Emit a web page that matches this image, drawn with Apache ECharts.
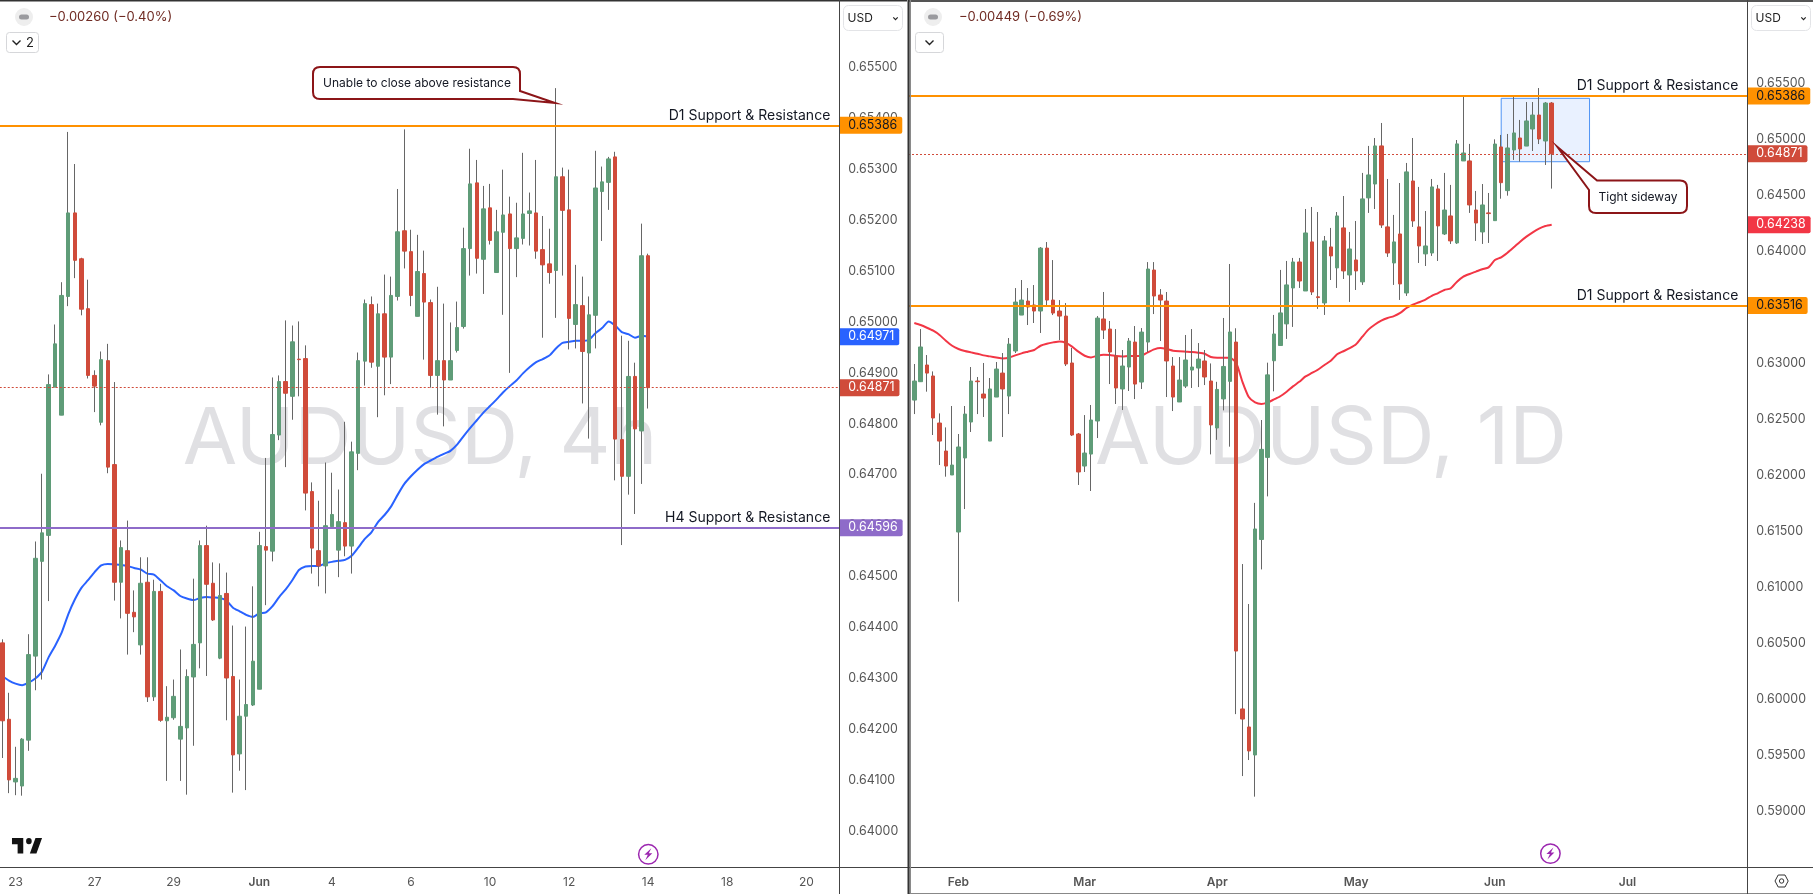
<!DOCTYPE html>
<html>
<head>
<meta charset="utf-8">
<title>AUDUSD</title>
<style>
html, body { margin: 0; padding: 0; background: #fff; }
#main { width: 1813px; height: 894px; }
</style>
<script src="https://cdn.jsdelivr.net/npm/echarts@6/dist/echarts.min.js"></script>
</head>
<body>
<div id="main"></div>
<script>
const h4Candles = [
  [0.64370,0.64217,0.64144,0.64377],[0.64220,0.64101,0.64075,0.64272],[0.64097,0.64104,0.64071,0.64166],
  [0.64089,0.64181,0.64070,0.64183],[0.64179,0.64347,0.64158,0.64387],[0.64344,0.64536,0.64277,0.64569],
  [0.64530,0.64586,0.64298,0.64702],[0.64581,0.64877,0.64452,0.64897],[0.64872,0.64957,0.64872,0.64995],
  [0.64817,0.65052,0.64817,0.65078],[0.65050,0.65214,0.65031,0.65373],[0.65214,0.65121,0.65086,0.65310],
  [0.65124,0.65025,0.65013,0.65126],[0.65026,0.64895,0.64889,0.65083],[0.64895,0.64874,0.64823,0.64905],
  [0.64803,0.64926,0.64797,0.64942],[0.64924,0.64715,0.64703,0.64957],[0.64720,0.64489,0.64453,0.64882],
  [0.64489,0.64557,0.64418,0.64571],[0.64551,0.64428,0.64347,0.64610],[0.64430,0.64421,0.64391,0.64473],
  [0.64366,0.64487,0.64347,0.64538],[0.64489,0.64264,0.64254,0.64538],[0.64264,0.64471,0.64256,0.64494],
  [0.64471,0.64218,0.64215,0.64486],[0.64217,0.64224,0.64099,0.64285],[0.64223,0.64265,0.64219,0.64298],
  [0.64181,0.64206,0.64099,0.64357],[0.64203,0.64304,0.64072,0.64318],[0.64303,0.64367,0.64168,0.64496],
  [0.64370,0.64561,0.64320,0.64571],[0.64561,0.64485,0.64305,0.64600],[0.64487,0.64415,0.64413,0.64528],
  [0.64340,0.64463,0.64338,0.64526],[0.64467,0.64301,0.64218,0.64508],[0.64304,0.64150,0.64076,0.64404],
  [0.64152,0.64226,0.64119,0.64298],[0.64226,0.64249,0.64081,0.64402],[0.64248,0.64334,0.64246,0.64481],
  [0.64279,0.64561,0.64279,0.64588],[0.64559,0.64552,0.64444,0.64733],[0.64550,0.64779,0.64530,0.64891],
  [0.64778,0.64883,0.64768,0.64895],[0.64883,0.64860,0.64715,0.65003],[0.64854,0.64961,0.64808,0.64993],
  [0.64927,0.64926,0.64854,0.65001],[0.64928,0.64664,0.64630,0.64954],[0.64667,0.64556,0.64506,0.64685],
  [0.64551,0.64521,0.64481,0.64649],[0.64521,0.64600,0.64467,0.64724],[0.64598,0.64622,0.64598,0.64704],
  [0.64552,0.64608,0.64499,0.64671],[0.64606,0.64560,0.64540,0.64804],[0.64560,0.64745,0.64506,0.64765],
  [0.64742,0.64924,0.64709,0.64940],[0.64923,0.65036,0.64875,0.65044],[0.65034,0.64921,0.64910,0.65050],
  [0.64913,0.65016,0.64813,0.65036],[0.65016,0.64931,0.64856,0.65093],[0.64931,0.65052,0.64878,0.65089],
  [0.65050,0.65177,0.65042,0.65261],[0.65179,0.65139,0.65105,0.65378],[0.65138,0.65052,0.65031,0.65181],
  [0.65011,0.65099,0.65011,0.65171],[0.65095,0.65039,0.64926,0.65140],[0.65038,0.64895,0.64871,0.65044],
  [0.64895,0.64924,0.64818,0.65069],[0.64924,0.64886,0.64795,0.65036],[0.64886,0.64924,0.64886,0.64999],
  [0.64944,0.64989,0.64940,0.65040],[0.64991,0.65144,0.64987,0.65185],[0.65144,0.65271,0.65091,0.65340],
  [0.65273,0.65125,0.65095,0.65318],[0.65123,0.65222,0.65055,0.65267],[0.65224,0.65160,0.65152,0.65271],
  [0.65097,0.65177,0.65097,0.65220],[0.65176,0.65210,0.65014,0.65299],[0.65212,0.65144,0.64900,0.65246],
  [0.65144,0.65165,0.65088,0.65234],[0.65164,0.65212,0.65152,0.65332],[0.65213,0.65218,0.65150,0.65254],
  [0.65214,0.65139,0.65124,0.65318],[0.65142,0.65112,0.64969,0.65208],[0.65114,0.65097,0.65075,0.65183],
  [0.65101,0.65285,0.65008,0.65459],[0.65285,0.65219,0.65091,0.65303],[0.65220,0.65007,0.64946,0.65299],
  [0.64995,0.65034,0.64948,0.65112],[0.65032,0.64942,0.64840,0.65089],[0.64939,0.65014,0.64771,0.65050],
  [0.65013,0.65263,0.64948,0.65336],[0.65256,0.65275,0.65159,0.65305],[0.65274,0.65320,0.65220,0.65324],
  [0.65324,0.64770,0.64689,0.65334],[0.64769,0.64697,0.64562,0.64973],[0.64697,0.64893,0.64661,0.64963],
  [0.64893,0.64790,0.64623,0.64920],[0.64786,0.65130,0.64682,0.65193],[0.65130,0.64871,0.64830,0.65134]
];
const h4Ema = [
  0.64305,0.64296,0.64290,0.64287,0.64292,0.64300,0.64313,0.64341,0.64364,0.64390,
  0.64426,0.64455,0.64478,0.64493,0.64509,0.64522,0.64525,0.64524,0.64523,0.64521,
  0.64517,0.64514,0.64506,0.64504,0.64493,0.64481,0.64473,0.64462,0.64457,0.64454,
  0.64458,0.64460,0.64459,0.64458,0.64453,0.64439,0.64432,0.64425,0.64421,0.64428,
  0.64430,0.64442,0.64460,0.64475,0.64493,0.64513,0.64520,0.64521,0.64521,0.64526,
  0.64529,0.64531,0.64533,0.64541,0.64557,0.64574,0.64587,0.64607,0.64621,0.64638,
  0.64661,0.64682,0.64697,0.64710,0.64721,0.64728,0.64735,0.64741,0.64747,0.64759,
  0.64776,0.64792,0.64807,0.64822,0.64835,0.64848,0.64862,0.64874,0.64885,0.64899,
  0.64911,0.64921,0.64927,0.64934,0.64948,0.64959,0.64961,0.64963,0.64963,0.64965,
  0.64978,0.64988,0.65001,0.64993,0.64980,0.64976,0.64969,0.64973,0.64971
];
const h4PriceTicks = [0.655,0.654,0.653,0.652,0.651,0.65,0.649,0.648,0.647,0.646,0.645,0.644,0.643,0.642,0.641,0.64];
const h4TickBars = [2,14,26,39,50,62,74,86,98,110,122];
const h4TickText = ['23','27','29','Jun','4','6','10','12','14','18','20'];

// same layout for the daily pane
const d1Candles = [
  [0.62672,0.62842,0.62547,0.62994],[0.62836,0.63146,0.62836,0.63306],[0.62985,0.62913,0.62747,0.63074],
  [0.62887,0.62512,0.62360,0.62928],[0.62467,0.62306,0.62092,0.62553],[0.62217,0.62083,0.61988,0.62428],
  [0.62003,0.62092,0.62003,0.62619],[0.61494,0.62253,0.60872,0.62369],[0.62155,0.62547,0.61699,0.62619],
  [0.62476,0.62842,0.62387,0.62967],[0.62842,0.62836,0.62547,0.62878],[0.62726,0.62690,0.62521,0.63003],
  [0.62306,0.62771,0.62306,0.62869],[0.62699,0.62949,0.62699,0.63012],[0.62913,0.62771,0.62342,0.63092],
  [0.62708,0.63172,0.62547,0.63226],[0.63110,0.63547,0.63092,0.63672],[0.63431,0.63565,0.63431,0.63744],
  [0.63556,0.63503,0.63342,0.63672],[0.63521,0.63467,0.63360,0.63699],[0.63467,0.64029,0.63271,0.64038],
  [0.64029,0.63565,0.63512,0.64083],[0.63565,0.63449,0.63431,0.63922],[0.63467,0.63422,0.63208,0.63565],
  [0.63422,0.62994,0.62976,0.63538],[0.63003,0.62360,0.62351,0.63137],[0.62369,0.62030,0.61914,0.62378],
  [0.62083,0.62199,0.62030,0.62538],[0.62190,0.62494,0.61860,0.62628],[0.62485,0.63404,0.62333,0.63422],
  [0.63396,0.63297,0.63217,0.63637],[0.63306,0.63101,0.62815,0.63378],[0.63065,0.62780,0.62637,0.63306],
  [0.62771,0.62976,0.62583,0.63119],[0.62967,0.63199,0.62753,0.63226],[0.63190,0.62815,0.62681,0.63333],
  [0.62833,0.63279,0.62771,0.63315],[0.63190,0.63842,0.63101,0.63904],[0.63833,0.63601,0.63440,0.63904],
  [0.63610,0.63565,0.63199,0.63663],[0.63556,0.63021,0.62699,0.63637],[0.62976,0.62699,0.62574,0.63056],
  [0.62655,0.62851,0.62655,0.63056],[0.62797,0.63030,0.62780,0.63253],[0.62940,0.62967,0.62780,0.63306],
  [0.62958,0.63038,0.62788,0.63181],[0.63021,0.62878,0.62806,0.63119],[0.62842,0.62450,0.62187,0.62999],
  [0.62423,0.62767,0.62317,0.62835],[0.62682,0.62972,0.62580,0.63405],[0.62839,0.63280,0.62256,0.63887],
  [0.63190,0.60431,0.59868,0.63313],[0.59914,0.59824,0.59315,0.61208],[0.59753,0.59539,0.59458,0.60851],
  [0.59503,0.61521,0.59131,0.61754],[0.61427,0.62232,0.61160,0.62494],[0.62160,0.62897,0.61812,0.63006],
  [0.63023,0.63262,0.62750,0.63432],[0.63159,0.63450,0.63159,0.63834],[0.63352,0.63700,0.63218,0.63914],
  [0.63673,0.63905,0.63325,0.63941],[0.63905,0.63735,0.63673,0.63941],[0.63646,0.64164,0.63646,0.64378],
  [0.64084,0.63637,0.63610,0.64396],[0.63594,0.63587,0.63486,0.64351],[0.63539,0.64093,0.63432,0.64137],
  [0.64039,0.63959,0.63744,0.64209],[0.63852,0.64316,0.63673,0.64351],[0.64209,0.63825,0.63753,0.64494],
  [0.63789,0.64021,0.63548,0.64173],[0.63923,0.63825,0.63655,0.64271],[0.63727,0.64468,0.63700,0.64700],
  [0.64477,0.64682,0.64343,0.64941],[0.64601,0.64941,0.64378,0.65012],[0.64941,0.64235,0.64209,0.65146],
  [0.64218,0.63985,0.63950,0.64646],[0.63896,0.64084,0.63700,0.64325],[0.64155,0.63709,0.63566,0.64610],
  [0.63628,0.64709,0.63602,0.64789],[0.64628,0.64271,0.64218,0.65012],[0.64218,0.64048,0.63896,0.64575],
  [0.63977,0.64048,0.63869,0.64360],[0.63985,0.64575,0.63959,0.64646],[0.64557,0.64227,0.63914,0.64593],
  [0.64155,0.64369,0.64146,0.64700],[0.64316,0.64093,0.64066,0.64593],[0.64075,0.64959,0.64066,0.64994],
  [0.64807,0.64878,0.64807,0.65381],[0.64807,0.64414,0.64343,0.64959],[0.64369,0.64253,0.64093,0.64539],
  [0.64173,0.64414,0.64066,0.64601],[0.64343,0.64337,0.64075,0.64521],[0.64274,0.64958,0.64274,0.65000],
  [0.64932,0.64613,0.64470,0.65039],[0.64542,0.64923,0.64497,0.65048],[0.64905,0.65057,0.64816,0.65378],
  [0.65012,0.64914,0.64801,0.65173],[0.64940,0.65164,0.64940,0.65333],[0.65092,0.65217,0.64896,0.65333],
  [0.65217,0.65003,0.64958,0.65458],[0.64985,0.65324,0.64771,0.65333],[0.65324,0.64871,0.64560,0.65333]
];
const d1Ma = [
  0.63360,0.63342,0.63318,0.63291,0.63253,0.63202,0.63157,0.63128,0.63110,0.63098,
  0.63086,0.63071,0.63062,0.63053,0.63044,0.63050,0.63071,0.63089,0.63104,0.63119,
  0.63157,0.63175,0.63187,0.63196,0.63184,0.63149,0.63104,0.63068,0.63053,0.63068,
  0.63077,0.63074,0.63065,0.63062,0.63065,0.63065,0.63068,0.63098,0.63125,0.63137,
  0.63128,0.63113,0.63107,0.63104,0.63101,0.63095,0.63086,0.63057,0.63050,0.63050,
  0.63050,0.63006,0.62835,0.62699,0.62651,0.62637,0.62651,0.62678,0.62706,0.62747,
  0.62794,0.62835,0.62883,0.62914,0.62945,0.62985,0.63023,0.63081,0.63108,0.63135,
  0.63170,0.63238,0.63303,0.63347,0.63381,0.63405,0.63422,0.63450,0.63494,0.63524,
  0.63545,0.63569,0.63603,0.63627,0.63655,0.63670,0.63729,0.63774,0.63798,0.63819,
  0.63840,0.63857,0.63923,0.63947,0.63988,0.64036,0.64086,0.64131,0.64170,0.64203,
  0.64226,0.64238
];
const d1PriceTicks = [0.655,0.65,0.645,0.64,0.635,0.63,0.625,0.62,0.615,0.61,0.605,0.6,0.595,0.59];
const d1TickBars = [7,27,48,70,92,113];
const d1TickText = ['Feb','Mar','Apr','May','Jun','Jul'];

// levels and boxes drawn on the panes
const lastPrice = 0.64871;
const h4Ema200 = 0.64971;
const d1MaLast = 0.64238;
const d1Upper = 0.65386;
const d1Lower = 0.63516;
const h4Level = 0.64596;
const boxPrices = [0.65366, 0.64800];
const boxBars = [93, 107];

const FONT = 'Inter';
const GREEN = '#5f9c78';
const RED = '#d04b3a';
const WICK = '#666666';
const ORANGE = '#ff9100';
const PURPLE = '#8e6bc9';
const BLUE = '#2962ff';
const MA_RED = '#f23645';
const CALLOUT = '#8c1518';

// the graphic component has no plain path type, so these are registered as shapes
echarts.graphic.registerShape('calloutLeft', echarts.graphic.extendPath('M320,67 H513 Q520,67 520,74 V91 L555,103 L513,99 H320 Q313,99 313,92 V74 Q313,67 320,67 Z', {}));
echarts.graphic.registerShape('calloutRight', echarts.graphic.extendPath('M1557.5,147 L1597,180.5 H1680 Q1687,180.5 1687,187.5 V206 Q1687,213 1680,213 H1596 Q1589,213 1589,206 V190 Z', {}));
echarts.graphic.registerShape('tvLogo', echarts.graphic.extendPath('M14 6H2v6h6v9h6V6zm14 15h-7l6-15h7l-6 15zm-8-9a3 3 0 1 0 0-6 3 3 0 0 0 0 6z', {}));

let myChart = echarts.init(document.getElementById('main'));

// one empty slot in front so the first candle sits inside the pane
function padded(rows) { return [['-', '-', '-', '-']].concat(rows); }
function bodies(rows) {
    return padded(rows.map(function (r) {
        return [r[0], r[1], Math.min(r[0], r[1]), Math.max(r[0], r[1])];
    }));
}
function barNames(n) {
    let out = [];
    for (let i = 0; i < n; i++) out.push('bar' + i);
    return out;
}
function xAxisFor(grid, n, tickBars, tickText) {
    return {
        type: 'category', gridIndex: grid, data: barNames(n), boundaryGap: false,
        axisLine: { show: false }, axisTick: { show: false }, splitLine: { show: false },
        axisLabel: {
            interval: 0, margin: 9, fontFamily: FONT, fontSize: 12, color: '#555',
            formatter: function (v) {
                let k = tickBars.indexOf(Number(v.slice(3)) - 1);
                if (k < 0) return '';
                let t = tickText[k];
                return /^[A-Z]/.test(t) ? '{b|' + t + '}' : t;
            },
            rich: { b: { fontFamily: FONT, fontSize: 12, fontWeight: 600, color: '#555' } }
        }
    };
}
function yAxisFor(grid, min, max, ticks) {
    return {
        type: 'value', gridIndex: grid, position: 'right', min: min, max: max, scale: true,
        axisLine: { show: false }, axisTick: { show: false }, splitLine: { show: false },
        axisLabel: {
            customValues: ticks, margin: 9, fontFamily: FONT, fontSize: 12.4, color: '#555',
            formatter: function (v) { return v.toFixed(5); }
        }
    };
}
// price tag in the scale column, the line itself is optional
function tag(price, bg, fg, lineStyle) {
    return {
        yAxis: price,
        lineStyle: lineStyle,
        label: {
            show: true, position: 'end', distance: 0, formatter: price.toFixed(5),
            backgroundColor: bg, color: fg, fontFamily: FONT, fontSize: 12.4, lineHeight: 12,
            padding: [3, 5, 2, 9], borderRadius: [0, 2, 2, 0]
        }
    };
}
function lineText(price, text, lineStyle) {
    return {
        yAxis: price,
        lineStyle: lineStyle,
        label: {
            show: true, position: 'insideEndTop', distance: [9, 3], formatter: text,
            color: '#131722', fontFamily: FONT, fontSize: 14
        }
    };
}
function paneSeries(idx, rows, maValues, maColor, marks, area) {
    let list = [
        {
            type: 'line', xAxisIndex: idx, yAxisIndex: idx, z: 1,
            data: ['-'].concat(maValues), showSymbol: false, smooth: 0.2,
            lineStyle: { color: maColor, width: 2 }
        },
        {
            type: 'candlestick', xAxisIndex: idx, yAxisIndex: idx, z: 2, barWidth: 1,
            data: padded(rows),
            itemStyle: { color: WICK, color0: WICK, borderColor: WICK, borderColor0: WICK, borderWidth: 1 }
        },
        {
            type: 'candlestick', xAxisIndex: idx, yAxisIndex: idx, z: 3, barWidth: 4,
            data: bodies(rows),
            itemStyle: { color: GREEN, color0: RED, borderColor: GREEN, borderColor0: RED, borderWidth: 1 }
        },
        {
            type: 'line', xAxisIndex: idx, yAxisIndex: idx, z: 4, data: [],
            markLine: { symbol: 'none', silent: true, animation: false, precision: 5, data: marks }
        }
    ];
    if (area) list[3].markArea = area;
    return list;
}

const thick = function (c) { return { color: c, width: 2, type: 'solid' }; };
const dotted = { color: RED, width: 1, type: [2, 2] };
const hidden = { color: 'rgba(0,0,0,0)', width: 1 };

// annotation shapes and the chart furniture around the panes
function txt(x, y, s, size, color, align, extra) {
    return Object.assign({
        type: 'text', z: 100, silent: true,
        style: { x: x, y: y, text: s, fontFamily: FONT, fontSize: size, fill: color, align: align || 'left', verticalAlign: 'middle' }
    }, extra || {});
}
function hline(x1, x2, y, c, w) {
    return { type: 'line', z: 100, silent: true, shape: { x1: x1, y1: y, x2: x2, y2: y }, style: { stroke: c, lineWidth: w || 1 } };
}
function vline(x, y1, y2, c, w) {
    return { type: 'line', z: 100, silent: true, shape: { x1: x, y1: y1, x2: x, y2: y2 }, style: { stroke: c, lineWidth: w || 1 } };
}
function box(x, y, w, h, stroke, r) {
    return { type: 'rect', z: 100, silent: true, shape: { x: x, y: y, width: w, height: h, r: r }, style: { fill: '#fff', stroke: stroke, lineWidth: 1 } };
}
function chevron(x, y, s, c, lw) {
    return { type: 'polyline', z: 101, silent: true, shape: { points: [[x - s, y - s / 2], [x, y + s / 2], [x + s, y - s / 2]] }, style: { fill: 'none', stroke: c, lineWidth: lw } };
}
function hideBtn(x) {
    return [
        { type: 'circle', z: 100, silent: true, shape: { cx: x, cy: 17, r: 9 }, style: { fill: '#eeeeee' } },
        { type: 'rect', z: 101, silent: true, shape: { x: x - 5, y: 14.5, width: 10, height: 5, r: 2.5 }, style: { fill: '#9a9a9e' } }
    ];
}
function bolt(cx, cy) {
    return [
        { type: 'circle', z: 100, silent: true, shape: { cx: cx, cy: cy, r: 9.7 }, style: { fill: '#fff', stroke: '#9c27b0', lineWidth: 1.5 } },
        { type: 'polygon', z: 101, silent: true, shape: { points: [[cx + 3, cy - 6], [cx - 4, cy + 0.5], [cx - 0.5, cy + 0.5], [cx - 3, cy + 6], [cx + 4, cy - 1], [cx + 0.5, cy - 1]] }, style: { fill: '#9c27b0' } }
    ];
}
function callout(kind) {
    return { type: kind, z: 100, silent: true, style: { fill: '#fff', stroke: CALLOUT, lineWidth: 2 } };
}

const furniture = [
    // watermarks go behind the candles
    txt(420, 440, 'AUDUSD, 4h', 79, '#e0e0e3', 'center', { z: 0 }),
    txt(1331, 440, 'AUDUSD, 1D', 80, '#e0e0e3', 'center', { z: 0 }),

    // frame
    hline(0, 907, 0.5, '#333', 2),
    hline(909, 1813, 1, '#555', 2),
    hline(0, 908, 867.5, '#444'),
    hline(909, 1813, 867.5, '#444'),
    hline(909, 1813, 893.5, '#888'),
    vline(839.5, 0, 894, '#444'),
    vline(1747.5, 0, 894, '#444'),
    { type: 'rect', z: 100, silent: true, shape: { x: 907.5, y: 0, width: 2.2, height: 894 }, style: { fill: '#333' } },
    { type: 'rect', z: 100, silent: true, shape: { x: 909.7, y: 0, width: 1.3, height: 894 }, style: { fill: '#8a8a8a' } },

    // legend buttons and change text
    hideBtn(24),
    txt(49, 17.5, '\u22120.00260 (\u22120.40%)', 13, '#6f2a22'),
    box(6.5, 32.5, 32, 20, '#d6d7da', 3),
    chevron(16.5, 42.5, 4, '#222', 1.4),
    txt(30, 43, '2', 13, '#222', 'center'),
    hideBtn(933),
    txt(959, 17.5, '\u22120.00449 (\u22120.69%)', 13, '#6f2a22'),
    box(915.5, 32.5, 28, 20, '#d6d7da', 3),
    chevron(929.5, 42.5, 4, '#222', 1.4),

    // currency boxes
    box(843.5, 5.5, 59, 25, '#e3e4e7', 5),
    txt(847.5, 18, 'USD', 12, '#222'),
    chevron(895.5, 18.5, 2.2, '#222', 1.2),
    box(1751.5, 5.5, 59, 25, '#e3e4e7', 5),
    txt(1755.5, 18, 'USD', 12, '#222'),
    chevron(1803.5, 18.5, 2.2, '#222', 1.2),

    // callouts
    callout('calloutLeft'),
    txt(417, 83, 'Unable to close above resistance', 12, '#131722', 'center'),
    callout('calloutRight'),
    txt(1638, 197, 'Tight sideway', 12, '#131722', 'center'),

    // logo, flash badges, settings
    { type: 'tvLogo', z: 100, silent: true, x: 10.1, y: 832, scaleX: 0.94, scaleY: 1.02, style: { fill: '#131313' } },
    bolt(648.3, 854.3),
    bolt(1550.4, 853.6),
    { type: 'polygon', z: 100, silent: true, shape: { points: [[1775, 881], [1778.2, 875], [1785, 875], [1788.2, 881], [1785, 887], [1778.2, 887]] }, style: { fill: '#fff', stroke: '#333', lineWidth: 1 } },
    { type: 'circle', z: 101, silent: true, shape: { cx: 1781.6, cy: 881, r: 2.2 }, style: { fill: '#fff', stroke: '#333', lineWidth: 1 } }
];

const option = {
    animation: false,
    backgroundColor: '#fff',
    grid: [
        { left: -4.26, top: 0, width: 843.56, height: 867, outerBoundsMode: 'none' },
        { left: 908, top: 0, width: 839.3, height: 867, outerBoundsMode: 'none' }
    ],
    xAxis: [
        xAxisFor(0, 129, h4TickBars, h4TickText),
        xAxisFor(1, 134, d1TickBars, d1TickText)
    ],
    yAxis: [
        yAxisFor(0, 0.6393, 0.65632, h4PriceTicks),
        yAxisFor(1, 0.58503, 0.66244, d1PriceTicks)
    ],
    series: paneSeries(0, h4Candles, h4Ema, BLUE, [
        lineText(d1Upper, 'D1 Support & Resistance', thick(ORANGE)),
        tag(d1Upper, ORANGE, '#131722', thick(ORANGE)),
        lineText(h4Level, 'H4 Support & Resistance', thick(PURPLE)),
        tag(h4Level, PURPLE, '#fff', thick(PURPLE)),
        tag(lastPrice, RED, '#fff', dotted),
        tag(h4Ema200, BLUE, '#fff', hidden)
    ]).concat(paneSeries(1, d1Candles, d1Ma, MA_RED, [
        lineText(d1Upper, 'D1 Support & Resistance', thick(ORANGE)),
        tag(d1Upper, ORANGE, '#131722', thick(ORANGE)),
        lineText(d1Lower, 'D1 Support & Resistance', thick(ORANGE)),
        tag(d1Lower, ORANGE, '#131722', thick(ORANGE)),
        tag(lastPrice, RED, '#fff', dotted),
        tag(d1MaLast, MA_RED, '#fff', hidden)
    ], {
        silent: true,
        itemStyle: { color: 'rgba(41,121,255,0.1)', borderColor: '#4f94f5', borderWidth: 1 },
        data: [[
            { xAxis: boxBars[0] + 1, yAxis: boxPrices[0] },
            { xAxis: boxBars[1] + 1, yAxis: boxPrices[1] }
        ]]
    })),
    graphic: { elements: furniture.flat() }
};

myChart.setOption(option);
</script>
</body>
</html>
